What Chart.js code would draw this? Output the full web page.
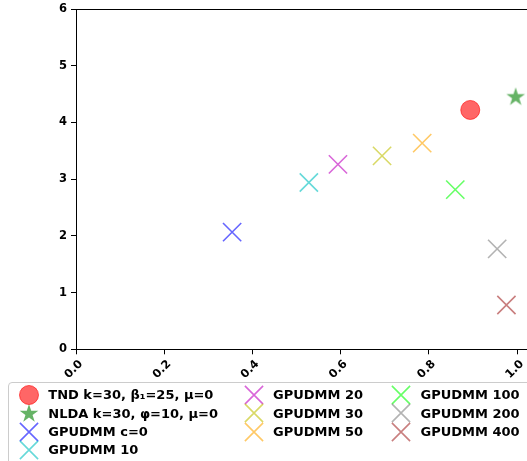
<!DOCTYPE html>
<html>
<head>
<meta charset="utf-8">
<title>Scatter</title>
<script src="https://cdn.jsdelivr.net/npm/chart.js@4/dist/chart.umd.min.js"></script>
<style>
  body { margin: 0; background: #fff; overflow: hidden; }
  #wrap { position: relative; width: 527px; height: 461px; overflow: hidden; }
  #chart { position: absolute; left: 0; top: 0; }
  #legend {
    position: absolute; left: 8px; top: 382px; width: 560px; height: 100px;
    border: 1px solid #cccccc; border-radius: 4px; background: #fff;
    box-sizing: border-box; padding: 2.8px 0 0 8.3px;
    display: grid;
    grid-template-rows: repeat(4, 18.3px);
    grid-template-columns: 224.7px 147.5px auto;
    font: bold 13px "DejaVu Sans", sans-serif; color: #000;
  }
  .item { display: flex; align-items: center; height: 18.3px; white-space: nowrap; }
  .item canvas { width: 24px; height: 22px; margin-right: 7px; flex: none; }
</style>
</head>
<body>
<div id="wrap">
  <canvas id="chart" width="560" height="461"></canvas>
  <div id="legend"></div>
</div>
<script>
// data
const seriesNames = [
  'TND k=30, \u03b2\u2081=25, \u03bc=0',
  'NLDA k=30, \u03c6=10, \u03bc=0',
  'GPUDMM c=0',
  'GPUDMM 10',
  'GPUDMM 20',
  'GPUDMM 30',
  'GPUDMM 50',
  'GPUDMM 100',
  'GPUDMM 200',
  'GPUDMM 400'
];
const xValues = [0.894, 0.997, 0.354, 0.528, 0.594, 0.694, 0.785, 0.860, 0.955, 0.976];
const yValues = [4.22, 4.46, 2.065, 2.94, 3.26, 3.41, 3.635, 2.815, 1.77, 0.78];
const markers = ['circle', 'star', 'x', 'x', 'x', 'x', 'x', 'x', 'x', 'x'];
const colors = [
  'rgba(255,0,0,0.6)', 'rgba(0,128,0,0.6)', 'rgba(0,0,255,0.6)', 'rgba(0,191,191,0.6)',
  'rgba(191,0,191,0.6)', 'rgba(191,191,0,0.6)', 'rgba(255,165,0,0.6)', 'rgba(0,255,0,0.6)',
  'rgba(128,128,128,0.6)', 'rgba(165,42,42,0.6)'
];
const xTicks = [0, 0.2, 0.4, 0.6, 0.8, 1.0];
const yTicks = [0, 1, 2, 3, 4, 5, 6];
const legendCols = [0, 0, 0, 0, 1, 1, 1, 2, 2, 2];
const legendRows = [0, 1, 2, 3, 0, 1, 2, 0, 1, 2];

// filled five point star like matplotlib's '*'
function starPath(ctx, cx, cy, r) {
  const inner = r * 0.382;
  ctx.beginPath();
  for (let i = 0; i < 10; i++) {
    const rr = i % 2 ? inner : r;
    const a = -Math.PI / 2 + i * Math.PI / 5;
    ctx.lineTo(cx + rr * Math.cos(a), cy + rr * Math.sin(a));
  }
  ctx.closePath();
}
function makeStar(color) {
  const c = document.createElement('canvas');
  c.width = 22; c.height = 22;
  const g = c.getContext('2d');
  starPath(g, 11, 11.8, 9.8);
  g.fillStyle = color;
  g.fill();
  return c;
}

function drawMarker(ctx, kind, color, cx, cy) {
  ctx.fillStyle = color;
  ctx.strokeStyle = color;
  if (kind === 'circle') {
    ctx.beginPath();
    ctx.arc(cx, cy, 9.5, 0, Math.PI * 2);
    ctx.fill();
    ctx.lineWidth = 1;
    ctx.stroke();
  } else if (kind === 'star') {
    starPath(ctx, cx, cy + 0.8, 9.8);
    ctx.fill();
  } else {
    const d = 9.1;
    ctx.lineWidth = 1.6;
    ctx.beginPath();
    ctx.moveTo(cx - d, cy - d); ctx.lineTo(cx + d, cy + d);
    ctx.moveTo(cx - d, cy + d); ctx.lineTo(cx + d, cy - d);
    ctx.stroke();
  }
}

const datasets = seriesNames.map(function (name, i) {
  const kind = markers[i];
  return {
    label: name,
    data: [{ x: xValues[i], y: yValues[i] }],
    pointStyle: kind === 'circle' ? 'circle' : (kind === 'star' ? makeStar(colors[i]) : 'crossRot'),
    pointRadius: kind === 'circle' ? 9.5 : 12.9,
    pointBorderWidth: kind === 'circle' ? 1 : 1.6,
    backgroundColor: colors[i],
    borderColor: colors[i]
  };
});

const tickFont = { family: 'DejaVu Sans', size: 11.5, weight: 'bold' };

new Chart(document.getElementById('chart').getContext('2d'), {
  type: 'scatter',
  data: { datasets: datasets },
  options: {
    responsive: false,
    animation: false,
    layout: { autoPadding: false, padding: { left: 0, top: 9, right: 20.5, bottom: 71.7 } },
    plugins: { legend: { display: false }, tooltip: { enabled: false } },
    scales: {
      x: {
        type: 'linear', position: 'bottom', min: 0, max: 1.051,
        afterFit: function (s) { s.height = 40; s.paddingLeft = 0; s.paddingRight = 0; },
        afterBuildTicks: function (s) { s.ticks = xTicks.map(v => ({ value: v })); },
        grid: { drawOnChartArea: false, tickLength: 5, tickColor: '#000' },
        border: { color: '#000', width: 1 },
        ticks: {
          color: '#000', font: tickFont, minRotation: 45, maxRotation: 45,
          padding: 3, labelOffset: 5,
          callback: v => Number(v).toFixed(1)
        }
      },
      xTop: {
        type: 'linear', position: 'top', min: 0, max: 1.051,
        afterFit: function (s) { s.height = 0; s.paddingLeft = 0; s.paddingRight = 0; },
        grid: { display: false },
        border: { color: '#000', width: 1 },
        ticks: { display: false }
      },
      y: {
        type: 'linear', min: 0, max: 6,
        afterFit: function (s) { s.width = 76; s.paddingTop = 0; s.paddingBottom = 0; },
        afterBuildTicks: function (s) { s.ticks = yTicks.map(v => ({ value: v })); },
        grid: { drawOnChartArea: false, tickLength: 5, tickColor: '#000' },
        border: { color: '#000', width: 1 },
        ticks: { color: '#000', font: tickFont, padding: 4 }
      }
    }
  }
});

// legend laid out in columns like the original (4, 3, 3)
const legend = document.getElementById('legend');
seriesNames.forEach(function (name, i) {
  const item = document.createElement('div');
  item.className = 'item';
  item.style.gridColumn = String(legendCols[i] + 1);
  item.style.gridRow = String(legendRows[i] + 1);
  const c = document.createElement('canvas');
  c.width = 24; c.height = 22;
  drawMarker(c.getContext('2d'), markers[i], colors[i], 12, 11);
  const span = document.createElement('span');
  span.textContent = name;
  item.appendChild(c);
  item.appendChild(span);
  legend.appendChild(item);
});
</script>
</body>
</html>
